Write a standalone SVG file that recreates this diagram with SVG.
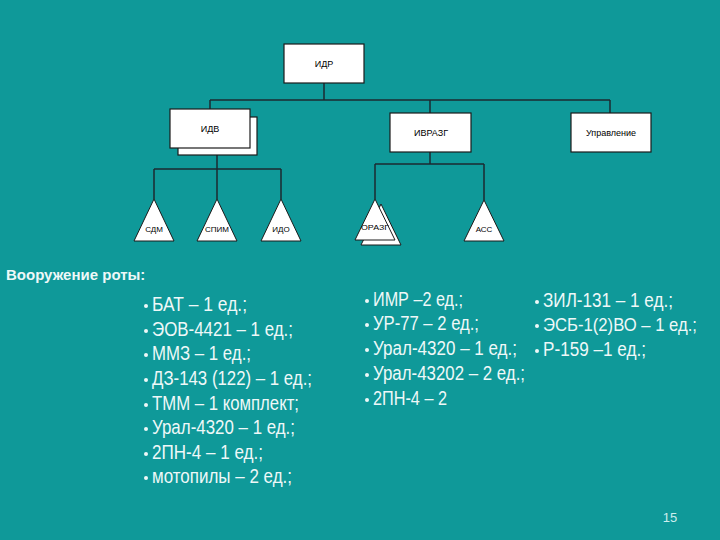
<svg xmlns="http://www.w3.org/2000/svg" width="720" height="540" viewBox="0 0 720 540">
<style>
.box{fill:#ffffff;stroke:#1b1b1b;stroke-width:1.2}
.tri{fill:#ffffff;stroke:#1b1b1b;stroke-width:1}
.lbl{font-family:"Liberation Sans",Arial,sans-serif;font-size:9px;fill:#000;text-anchor:middle}
.tl{font-family:"Liberation Sans",Arial,sans-serif;font-size:8px;fill:#000;text-anchor:middle}
.con{fill:none;stroke:#1c2a30;stroke-width:1.5}
.item{font-family:"Liberation Sans",Arial,sans-serif;font-size:20.5px;fill:#eef8f8}
.dot{fill:#eef8f8}
.head{font-family:"Liberation Sans",Arial,sans-serif;font-size:15px;font-weight:bold;fill:#eef8f8}
</style>
<rect x="0" y="0" width="720" height="540" fill="#0f9999"/>

<g id="connectors">
<path class="con" d="M324 83 V100 M210 100 H610 M210 100 V109 M430 100 V113 M610 100 V113"/>
<path class="con" d="M217 155 V169 M154 169 H281 M154 169 V199 M217 169 V199 M281 169 V199"/>
<path class="con" d="M430 152 V164 M375 164 H484 M375 164 V199 M484 164 V200"/>
</g>

<g id="node-idr">
<rect class="box" x="284" y="44" width="80" height="39"/>
<text class="lbl" x="324" y="67">ИДР</text>
</g>
<g id="node-idv">
<rect class="box" x="178" y="117" width="79" height="38"/>
<rect class="box" x="170" y="109" width="80" height="39"/>
<text class="lbl" x="210" y="132">ИДВ</text>
</g>
<g id="node-ivrazg">
<rect class="box" x="390" y="113" width="81" height="39"/>
<text class="lbl" x="431" y="136">ИВРАЗГ</text>
</g>
<g id="node-upr">
<rect class="box" x="571" y="113" width="80" height="39"/>
<text class="lbl" x="611" y="136">Управление</text>
</g>

<g id="node-sdm">
<polygon class="tri" points="154,199 174,241 134,241"/>
<text class="tl" x="154" y="232">СДМ</text>
</g>
<g id="node-spim">
<polygon class="tri" points="217,199 237,241 197,241"/>
<text class="tl" x="217" y="232">СПИМ</text>
</g>
<g id="node-ido">
<polygon class="tri" points="281,199 301,241 261,241"/>
<text class="tl" x="281" y="232">ИДО</text>
</g>
<g id="node-orazg">
<polygon class="tri" points="381,204 401,245 361,245"/>
<polygon class="tri" points="375,199 395,240 355,240"/>
<text class="tl" x="375" y="230" textLength="28" lengthAdjust="spacingAndGlyphs">ОРАЗГ</text>
</g>
<g id="node-ass">
<polygon class="tri" points="484,200 504,241 464,241"/>
<text class="tl" x="484" y="232">АСС</text>
</g>

<text class="head" x="6" y="280">Вооружение роты:</text>

<g id="list1">
<circle class="dot" cx="146" cy="306" r="2"/><text class="item" x="152" y="311" textLength="95" lengthAdjust="spacingAndGlyphs">БАТ – 1 ед.;</text>
<circle class="dot" cx="146" cy="331" r="2"/><text class="item" x="152" y="336" textLength="141" lengthAdjust="spacingAndGlyphs">ЭОВ-4421 – 1 ед.;</text>
<circle class="dot" cx="146" cy="355" r="2"/><text class="item" x="152" y="360" textLength="99" lengthAdjust="spacingAndGlyphs">ММЗ – 1 ед.;</text>
<circle class="dot" cx="146" cy="380" r="2"/><text class="item" x="152" y="385" textLength="160" lengthAdjust="spacingAndGlyphs">ДЗ-143 (122) – 1 ед.;</text>
<circle class="dot" cx="146" cy="405" r="2"/><text class="item" x="152" y="410" textLength="147" lengthAdjust="spacingAndGlyphs">ТММ – 1 комплект;</text>
<circle class="dot" cx="146" cy="429" r="2"/><text class="item" x="152" y="434" textLength="143" lengthAdjust="spacingAndGlyphs">Урал-4320 – 1 ед.;</text>
<circle class="dot" cx="146" cy="454" r="2"/><text class="item" x="152" y="459" textLength="111" lengthAdjust="spacingAndGlyphs">2ПН-4 – 1 ед.;</text>
<circle class="dot" cx="146" cy="478" r="2"/><text class="item" x="152" y="483" textLength="140" lengthAdjust="spacingAndGlyphs">мотопилы – 2 ед.;</text>
</g>

<g id="list2">
<circle class="dot" cx="367" cy="301" r="2"/><text class="item" x="373" y="306" textLength="90" lengthAdjust="spacingAndGlyphs">ИМР –2 ед.;</text>
<circle class="dot" cx="367" cy="325" r="2"/><text class="item" x="373" y="330" textLength="106" lengthAdjust="spacingAndGlyphs">УР-77 – 2 ед.;</text>
<circle class="dot" cx="367" cy="350" r="2"/><text class="item" x="373" y="355" textLength="144" lengthAdjust="spacingAndGlyphs">Урал-4320 – 1 ед.;</text>
<circle class="dot" cx="367" cy="375" r="2"/><text class="item" x="373" y="380" textLength="152" lengthAdjust="spacingAndGlyphs">Урал-43202 – 2 ед.;</text>
<circle class="dot" cx="367" cy="400" r="2"/><text class="item" x="373" y="405" textLength="74" lengthAdjust="spacingAndGlyphs">2ПН-4 – 2</text>
</g>

<g id="list3">
<circle class="dot" cx="537" cy="302" r="2"/><text class="item" x="543" y="307" textLength="130" lengthAdjust="spacingAndGlyphs">ЗИЛ-131 – 1 ед.;</text>
<circle class="dot" cx="537" cy="326" r="2"/><text class="item" x="543" y="331" font-size="19" style="font-size:19px" textLength="154" lengthAdjust="spacingAndGlyphs">ЭСБ-1(2)ВО – 1 ед.;</text>
<circle class="dot" cx="537" cy="351" r="2"/><text class="item" x="543" y="356" textLength="103" lengthAdjust="spacingAndGlyphs">Р-159 –1 ед.;</text>
</g>

<text x="670" y="522" font-family="Liberation Sans, Arial, sans-serif" font-size="13" fill="#cdeeee" text-anchor="middle">15</text>
</svg>
